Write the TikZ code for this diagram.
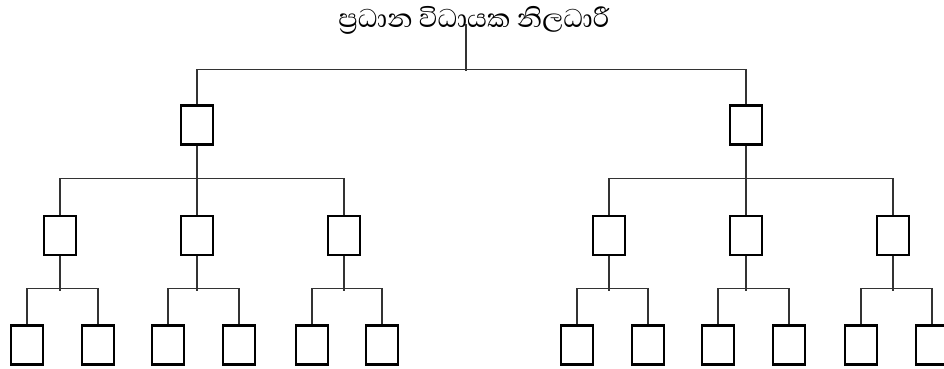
\documentclass[tikz,border=0pt]{standalone}
\usepackage{fontspec}
\newfontfamily\sinhalafont[Script=Sinhala]{Abhaya Libre}
\usepackage{tikz}

\tikzset{
  unitbox/.style={draw=black, line width=2.6pt, minimum width=32pt, minimum height=39pt, inner sep=0pt},
  link/.style={draw=black!80, line width=1.3pt}
}

\begin{document}
\begin{tikzpicture}[x=1pt,y=-1pt]
\useasboundingbox (0,0) rectangle (944,369);
\clip (0,0) rectangle (944,369);
% title
\node[font=\sinhalafont\fontsize{33}{36}\selectfont, anchor=base, inner sep=0pt] (ceo) at (474,28) {ප්^^^^200dරධාන විධායක නිලධාරී};
\coordinate (ceotop) at (466,24);
% first level
\node[unitbox] (deptL) at (197,125) {};
\node[unitbox] (deptR) at (746,125) {};
% second level
\node[unitbox] (secL1) at (60,235.5) {};
\node[unitbox] (secL2) at (197,235.5) {};
\node[unitbox] (secL3) at (344,235.5) {};
\node[unitbox] (secR1) at (609,235.5) {};
\node[unitbox] (secR2) at (746,235.5) {};
\node[unitbox] (secR3) at (893,235.5) {};
% bottom level
\node[unitbox] (unitL1a) at (27,345) {};
\node[unitbox] (unitL1b) at (98,345) {};
\node[unitbox] (unitL2a) at (168,345) {};
\node[unitbox] (unitL2b) at (239,345) {};
\node[unitbox] (unitL3a) at (312,345) {};
\node[unitbox] (unitL3b) at (382,345) {};
\node[unitbox] (unitR1a) at (577,345) {};
\node[unitbox] (unitR1b) at (648,345) {};
\node[unitbox] (unitR2a) at (718,345) {};
\node[unitbox] (unitR2b) at (789,345) {};
\node[unitbox] (unitR3a) at (861,345) {};
\node[unitbox] (unitR3b) at (932,345) {};
% links
\draw[link] (ceotop) -- ++(0,47);
\draw[link] (deptL.north) -- ++(0,-34.5) -| (deptR.north);
\draw[link] (deptL.south) -- (secL2.north);
\draw[link] (secL1.north) -- ++(0,-36) -| (secL3.north);
\draw[link] (deptR.south) -- (secR2.north);
\draw[link] (secR1.north) -- ++(0,-36) -| (secR3.north);
\draw[link] (secL1.south) -- ++(0,35);
\draw[link] (unitL1a.north) -- ++(0,-35.5) -| (unitL1b.north);
\draw[link] (secL2.south) -- ++(0,35);
\draw[link] (unitL2a.north) -- ++(0,-35.5) -| (unitL2b.north);
\draw[link] (secL3.south) -- ++(0,35);
\draw[link] (unitL3a.north) -- ++(0,-35.5) -| (unitL3b.north);
\draw[link] (secR1.south) -- ++(0,35);
\draw[link] (unitR1a.north) -- ++(0,-35.5) -| (unitR1b.north);
\draw[link] (secR2.south) -- ++(0,35);
\draw[link] (unitR2a.north) -- ++(0,-35.5) -| (unitR2b.north);
\draw[link] (secR3.south) -- ++(0,35);
\draw[link] (unitR3a.north) -- ++(0,-35.5) -| (unitR3b.north);
\end{tikzpicture}
\end{document}
